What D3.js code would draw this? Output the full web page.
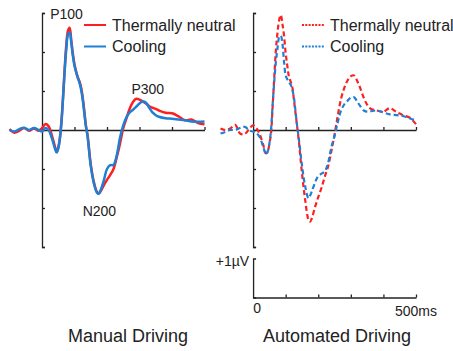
<!DOCTYPE html>
<html>
<head>
<meta charset="utf-8">
<script src="https://cdn.jsdelivr.net/npm/d3@7"></script>
<style>
  body { margin: 0; background: #fff; }
  svg { display: block; font-family: "Liberation Sans", Arial, sans-serif; }
</style>
</head>
<body>
<div id="chart-area"></div>
<script>
// time points (ms) shared by every series
const times = [-100,-85,-70,-55,-40,-25,-10,0,10,20,30,40,45,50,55,60,65,70,75,80,85,90,95,100,105,110,115,120,125,130,135,140,150,160,170,175,180,190,200,210,220,230,240,250,260,270,280,290,300,310,320,330,340,350,360,380,400,420,440,460,480,500];

// amplitudes in µV
const manualNeutral = [0.02,-0.07,-0.02,0.05,-0.02,0.04,-0.02,0.05,0.15,0.1,-0.13,-0.43,-0.56,-0.45,-0.21,0.25,0.88,1.6,2.2,2.55,2.62,2.3,1.95,1.68,1.5,1.35,1.25,1.1,0.85,0.5,0.12,-0.12,-0.88,-1.35,-1.6,-1.62,-1.58,-1.42,-1.28,-1.15,-1.0,-0.7,-0.35,0.05,0.3,0.55,0.72,0.8,0.78,0.73,0.68,0.61,0.57,0.54,0.5,0.44,0.43,0.35,0.25,0.27,0.18,0.15];
const manualCooling = [0.0,-0.04,0.02,0.06,0.0,0.05,0.0,-0.04,0.05,0.0,-0.2,-0.48,-0.58,-0.48,-0.22,0.2,0.85,1.55,2.1,2.45,2.5,2.25,1.9,1.65,1.48,1.35,1.22,1.05,0.8,0.45,0.1,-0.15,-0.92,-1.38,-1.62,-1.63,-1.55,-1.3,-1.0,-0.9,-0.9,-0.65,-0.2,0.12,0.33,0.45,0.52,0.6,0.68,0.73,0.7,0.57,0.45,0.38,0.34,0.3,0.29,0.27,0.25,0.22,0.21,0.22];
const autoNeutral = [0.04,0.0,0.04,0.13,-0.09,-0.1,0.05,0.12,0.05,-0.1,-0.35,-0.6,-0.55,-0.35,-0.09,0.6,1.35,2.05,2.5,2.82,2.95,2.72,2.42,1.97,1.65,1.37,1.25,1.12,0.8,0.45,0.1,-0.25,-1.1,-1.8,-2.3,-2.35,-2.27,-1.98,-1.72,-1.48,-1.2,-0.94,-0.55,-0.12,0.37,0.8,1.08,1.27,1.38,1.4,1.25,1.05,0.82,0.65,0.55,0.5,0.47,0.56,0.46,0.38,0.32,0.15];
const autoCooling = [-0.09,-0.05,0.0,0.0,0.05,0.08,-0.02,-0.04,-0.08,-0.18,-0.4,-0.63,-0.55,-0.35,0.0,0.65,1.25,1.75,2.1,2.38,2.42,2.22,1.75,1.4,1.3,1.22,1.17,1.05,0.85,0.5,0.12,-0.2,-0.9,-1.45,-1.75,-1.68,-1.58,-1.35,-1.18,-1.12,-1.06,-0.85,-0.45,-0.15,0.2,0.5,0.66,0.75,0.83,0.84,0.72,0.6,0.5,0.47,0.48,0.5,0.45,0.4,0.38,0.36,0.3,0.24];

const yTicks = [-3,-2,-1,0,1,2,3];
const xTicks = [100,200,300,400,500];
const seriesNames = ["Thermally neutral", "Cooling"];
const peakLabels = [
  { text: "P100", t: 25, v: 2.85 },
  { text: "N200", t: 125, v: -2.2 },
  { text: "P300", t: 275, v: 0.93 }
];
const panelTitles = ["Manual Driving", "Automated Driving"];

const RED = "#ff1f1f", BLUE = "#1f7fd4", INK = "#222";
const WIDTH = 453, HEIGHT = 351;

const svg = d3.select("#chart-area").append("svg")
  .attr("width", WIDTH).attr("height", HEIGHT);

const y = d3.scaleLinear().domain([-3, 3]).range([247, 13]);

const panels = [
  { x0: 9.5, x1: 204.5, data: [manualNeutral, manualCooling], dash: null, legendX: 84, title: panelTitles[0], titleX: 128 },
  { x0: 220.5, x1: 416, data: [autoNeutral, autoCooling], dash: "5,3", legendX: 302, title: panelTitles[1], titleX: 337 }
];

panels.forEach((p, pi) => {
  const x = d3.scaleLinear().domain([-100, 500]).range([p.x0, p.x1]);
  const xPost = d3.scaleLinear().domain([0, 500]).range([x(0), x(500)]);
  const g = svg.append("g");

  // y axis, ticks pointing right
  g.append("g")
    .attr("transform", `translate(${x(0)},0)`)
    .call(d3.axisRight(y).tickValues(yTicks).tickSize(3).tickSizeOuter(3).tickFormat(""))
    .call(a => a.selectAll("path,line").attr("stroke", INK).attr("stroke-width", 1.3));

  // zero line with ticks pointing up
  g.append("g")
    .attr("transform", `translate(0,${y(0)})`)
    .call(d3.axisTop(xPost).tickValues(xTicks).tickSize(3).tickSizeOuter(0).tickFormat(""))
    .call(a => a.selectAll("path,line").attr("stroke", INK).attr("stroke-width", 1.3));

  const line = d3.line()
    .x((d, i) => x(times[i]))
    .y(d => y(d))
    .curve(d3.curveCatmullRom.alpha(0.5));

  [RED, BLUE].forEach((c, si) => {
    g.append("path")
      .datum(p.data[si])
      .attr("d", line)
      .attr("fill", "none")
      .attr("stroke", c)
      .attr("stroke-width", p.dash ? 2.2 : 2.5)
      .attr("stroke-dasharray", p.dash);
  });

  // legend
  seriesNames.forEach((name, si) => {
    const ly = 25 + si * 21.5;
    g.append("line")
      .attr("x1", p.legendX).attr("x2", p.legendX + 22)
      .attr("y1", ly).attr("y2", ly)
      .attr("stroke", si === 0 ? RED : BLUE)
      .attr("stroke-width", 2)
      .attr("stroke-dasharray", p.dash ? "2,1.3" : null);
    g.append("text")
      .attr("x", p.legendX + 28).attr("y", ly + 5.5)
      .attr("font-size", "16px").attr("fill", INK)
      .text(name);
  });

  g.append("text")
    .attr("x", p.titleX).attr("y", 342)
    .attr("text-anchor", "middle")
    .attr("font-size", "18px").attr("fill", INK)
    .text(p.title);

  if (pi === 0) {
    peakLabels.forEach(l => {
      g.append("text")
        .attr("x", x(l.t)).attr("y", y(l.v))
        .attr("font-size", "14px").attr("fill", INK)
        .text(l.text);
    });
  } else {
    // scale bar: +1 µV and 0–500 ms
    const sbY = d3.scaleLinear().domain([0, 1]).range([297.5, 258.5]);
    g.append("g")
      .attr("transform", `translate(${x(0)},0)`)
      .call(d3.axisRight(sbY).tickValues([]).tickSize(0).tickSizeOuter(3).tickFormat(""))
      .call(a => a.selectAll("path").attr("stroke", INK).attr("stroke-width", 1.3));
    g.append("g")
      .attr("transform", `translate(0,${sbY(0)})`)
      .call(d3.axisTop(xPost).tickValues(xTicks).tickSize(3).tickSizeOuter(0).tickFormat(""))
      .call(a => a.selectAll("path,line").attr("stroke", INK).attr("stroke-width", 1.3));
    g.append("text")
      .attr("x", x(0) - 4).attr("y", sbY(1) + 7)
      .attr("text-anchor", "end").attr("font-size", "14px").attr("fill", INK)
      .text("+1µV");
    g.append("text")
      .attr("x", x(0) + 4).attr("y", 313)
      .attr("text-anchor", "middle").attr("font-size", "14px").attr("fill", INK)
      .text("0");
    g.append("text")
      .attr("x", x(500) + 21).attr("y", 316)
      .attr("text-anchor", "end").attr("font-size", "14px").attr("fill", INK)
      .text("500ms");
  }
});
</script>
</body>
</html>
